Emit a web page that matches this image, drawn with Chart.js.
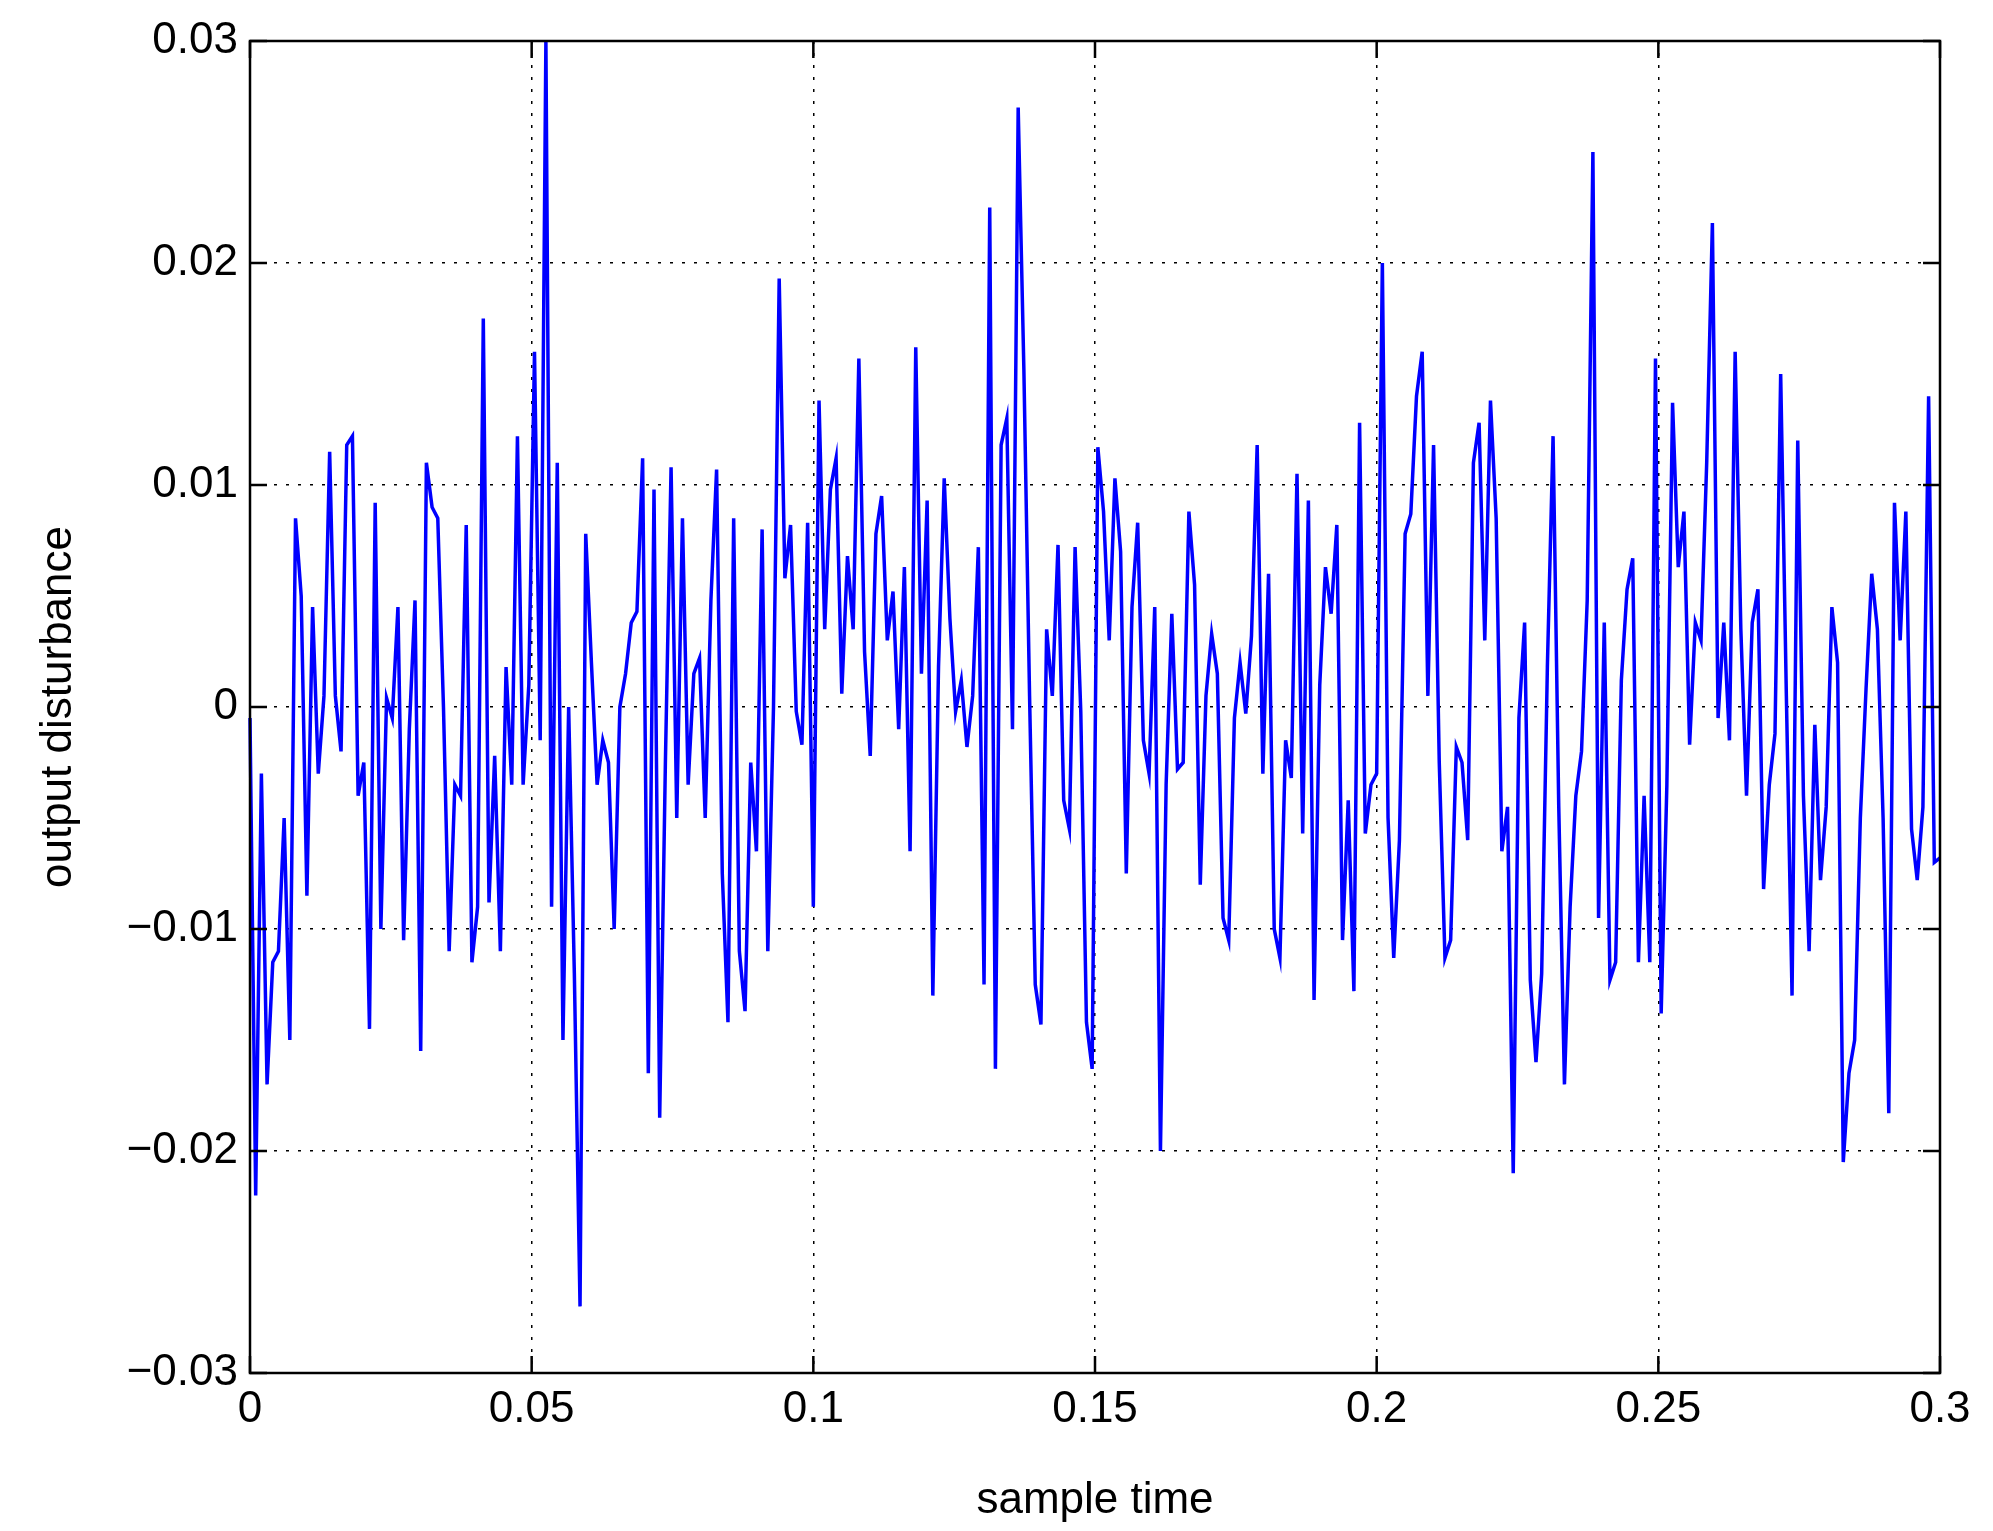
<!DOCTYPE html>
<html>
<head>
<meta charset="utf-8">
<script src="https://cdn.jsdelivr.net/npm/chart.js@4/dist/chart.umd.min.js"></script>
<style>
html, body { margin: 0; padding: 0; background: #fff; }
#wrap { width: 1993px; height: 1531px; }
</style>
</head>
<body>
<div id="wrap"><canvas id="c"></canvas></div>
<script>
// output disturbance (sample step ~0.001 s)
const disturbance = [
-0.0005,-0.022,-0.003,-0.017,-0.0115,-0.011,-0.005,-0.015,0.0085,0.005,
-0.0085,0.0045,-0.003,0.0005,0.0115,0.0005,-0.002,0.0118,0.0122,-0.004,
-0.0025,-0.0145,0.0092,-0.01,0.0004,-0.0005,0.0045,-0.0105,-0.001,0.0048,
-0.0155,0.011,0.009,0.0085,0.0,-0.011,-0.0035,-0.004,0.0082,-0.0115,
-0.009,0.0175,-0.0088,-0.0022,-0.011,0.0018,-0.0035,0.0122,-0.0035,0.001,
0.016,-0.0015,0.03,-0.009,0.011,-0.015,0.0,-0.012,-0.027,0.0078,
0.002,-0.0035,-0.0015,-0.0025,-0.01,0.0,0.0015,0.0038,0.0043,0.0112,
-0.0165,0.0098,-0.0185,-0.0025,0.0108,-0.005,0.0085,-0.0035,0.0015,0.0022,
-0.005,0.0048,0.0107,-0.0075,-0.0142,0.0085,-0.011,-0.0137,-0.0025,-0.0065,
0.008,-0.011,0.0,0.0193,0.0058,0.0082,-0.0002,-0.0017,0.0083,-0.009,
0.0138,0.0035,0.0098,0.0112,0.0006,0.0068,0.0035,0.0157,0.0025,-0.0022,
0.0078,0.0095,0.003,0.0052,-0.001,0.0063,-0.0065,0.0162,0.0015,0.0093,
-0.013,0.0018,0.0103,0.004,-0.0002,0.0012,-0.0018,0.0005,0.0072,-0.0125,
0.0225,-0.0163,0.0118,0.013,-0.001,0.027,0.0152,0.0005,-0.0125,-0.0143,
0.0035,0.0005,0.0073,-0.0042,-0.0055,0.0072,-0.0002,-0.0142,-0.0163,0.0117,
0.0088,0.003,0.0103,0.007,-0.0075,0.0045,0.0083,-0.0015,-0.003,0.0045,
-0.02,-0.0035,0.0042,-0.0028,-0.0025,0.0088,0.0055,-0.008,0.0005,0.0033,
0.0015,-0.0095,-0.0105,-0.0005,0.002,-0.0003,0.0032,0.0118,-0.003,0.006,
-0.01,-0.0113,-0.0015,-0.0032,0.0105,-0.0057,0.0093,-0.0132,0.001,0.0063,
0.0042,0.0082,-0.0105,-0.0042,-0.0128,0.0128,-0.0057,-0.0035,-0.003,0.02,
-0.005,-0.0113,-0.006,0.0078,0.0087,0.014,0.016,0.0005,0.0118,-0.0025,
-0.0113,-0.0105,-0.0018,-0.0025,-0.006,0.011,0.0128,0.003,0.0138,0.0085,
-0.0065,-0.0045,-0.021,-0.0005,0.0038,-0.0123,-0.016,-0.012,0.0018,0.0122,
-0.0045,-0.017,-0.009,-0.004,-0.002,0.0048,0.025,-0.0095,0.0038,-0.0123,
-0.0115,0.0012,0.0053,0.0067,-0.0115,-0.004,-0.0115,0.0157,-0.0138,-0.0035,
0.0137,0.0063,0.0088,-0.0017,0.0038,0.003,0.011,0.0218,-0.0005,0.0038,
-0.0015,0.016,0.0035,-0.004,0.0038,0.0053,-0.0082,-0.0035,-0.0012,0.015,
0.0005,-0.013,0.012,-0.004,-0.011,-0.0008,-0.0078,-0.0045,0.0045,0.002,
-0.0205,-0.0165,-0.015,-0.005,0.0008,0.006,0.0035,-0.005,-0.0183,0.0092,
0.003,0.0088,-0.0055,-0.0078,-0.0045,0.014,-0.007,-0.0068
];
const tEnd = 0.3;
const sampleTime = disturbance.map((_, i) => i * tEnd / (disturbance.length - 1));
const xTicks = [0, 0.05, 0.1, 0.15, 0.2, 0.25, 0.3];
const yTicks = [-0.03, -0.02, -0.01, 0, 0.01, 0.02, 0.03];

const fontFamily = '"Liberation Sans", Arial, sans-serif';

function fmt(v) {
    if (Math.abs(v) < 1e-12) return '0';
    const s = String(parseFloat(v.toFixed(4)));
    return s.replace('-', '\u2212');
}

// MATLAB style: box and inward ticks on all four sides
const boxTicks = {
    id: 'boxTicks',
    afterDraw(chart) {
        const { ctx, chartArea: a, scales } = chart;
        ctx.save();
        ctx.strokeStyle = '#000';
        ctx.lineWidth = 2.5;
        ctx.strokeRect(a.left, a.top, a.right - a.left, a.bottom - a.top);
        const len = 17;
        ctx.beginPath();
        xTicks.forEach(v => {
            const px = scales.x.getPixelForValue(v);
            ctx.moveTo(px, a.bottom); ctx.lineTo(px, a.bottom - len);
            ctx.moveTo(px, a.top); ctx.lineTo(px, a.top + len);
        });
        yTicks.forEach(v => {
            const py = scales.y.getPixelForValue(v);
            ctx.moveTo(a.left, py); ctx.lineTo(a.left + len, py);
            ctx.moveTo(a.right, py); ctx.lineTo(a.right - len, py);
        });
        ctx.stroke();
        ctx.restore();
    }
};

new Chart(document.getElementById('c'), {
    type: 'line',
    data: {
        datasets: [{
            data: sampleTime.map((t, i) => ({ x: t, y: disturbance[i] })),
            borderColor: '#0000ff',
            borderWidth: 3.5,
            pointRadius: 0,
            tension: 0,
            clip: 3
        }]
    },
    options: {
        responsive: true,
        maintainAspectRatio: false,
        devicePixelRatio: 1,
        animation: false,
        layout: { padding: { top: 41, right: 53, left: 28, bottom: 0 } },
        plugins: { legend: { display: false }, tooltip: { enabled: false } },
        scales: {
            x: {
                type: 'linear',
                min: 0, max: 0.3,
                afterBuildTicks: s => { s.ticks = xTicks.map(v => ({ value: v })); },
                afterFit: s => { s.height = 158; },
                grid: { color: '#000', lineWidth: 1.5, tickLength: 0, drawTicks: false },
                border: { display: false, dash: [3, 9] },
                ticks: { color: '#000', font: { family: fontFamily, size: 44 }, padding: 10, callback: v => fmt(v), maxRotation: 0 },
                title: { display: true, text: 'sample time', color: '#000', font: { family: fontFamily, size: 44 }, padding: { top: 0 } }
            },
            y: {
                min: -0.03, max: 0.03,
                afterBuildTicks: s => { s.ticks = yTicks.map(v => ({ value: v })); },
                afterFit: s => { s.width = 222; },
                grid: { color: '#000', lineWidth: 1.5, drawTicks: false },
                border: { display: false, dash: [3, 9] },
                ticks: { color: '#000', font: { family: fontFamily, size: 44 }, padding: 12, callback: v => fmt(v) },
                title: { display: true, text: 'output disturbance', color: '#000', font: { family: fontFamily, size: 44 }, padding: { bottom: 0 } }
            }
        }
    },
    plugins: [boxTicks]
});
</script>
</body>
</html>
